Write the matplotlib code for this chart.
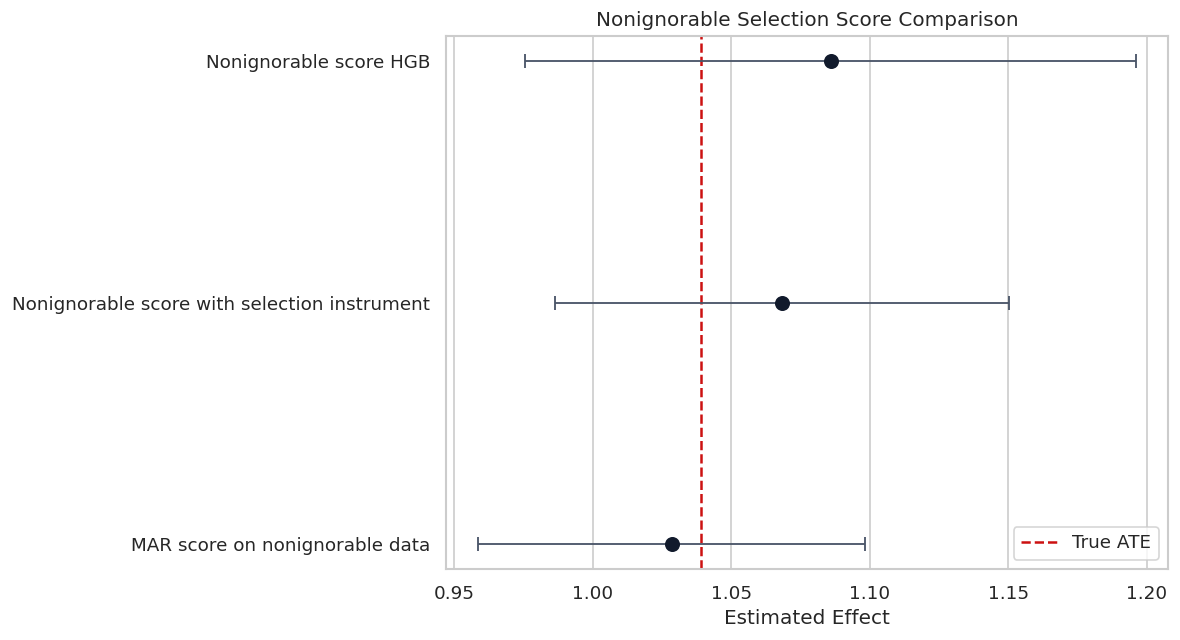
import matplotlib
matplotlib.use("Agg")
import matplotlib.pyplot as plt
import seaborn as sns
import numpy as np

labels = ["Nonignorable score HGB",
          "Nonignorable score with selection instrument",
          "MAR score on nonignorable data"]
estimates = [1.0860, 1.0683, 1.0286]
ci_lower = [0.9756, 0.9865, 0.9586]
ci_upper = [1.1961, 1.1501, 1.0982]
true_ate = 1.0391

sns.set_theme(style="whitegrid")
plt.rcParams['font.family'] = ['DejaVu Sans']

fig = plt.figure(figsize=(1180/120, 640/120), dpi=120)
ax = fig.add_axes([446/1180, 1 - 569/640, (1168-446)/1180, (569-36)/640])

y = np.arange(len(labels))
est = np.array(estimates)
err = np.vstack([est - np.array(ci_lower), np.array(ci_upper) - est])
ax.errorbar(est, y, xerr=err, fmt='o', color='#111a2c', ecolor='#4a5568',
            elinewidth=1.1, capsize=4, capthick=1.1, markersize=8, zorder=3)
ax.axvline(true_ate, color='#cc1111', linestyle='--', linewidth=1.5, label='True ATE', zorder=2)

ax.set_yticks(y)
ax.set_yticklabels(labels)
ax.set_ylim(2.104, -0.104)
ax.set_xlim(0.9471, 1.2076)
ax.set_xticks([0.95, 1.00, 1.05, 1.10, 1.15, 1.20])
ax.set_xticklabels(["0.95", "1.00", "1.05", "1.10", "1.15", "1.20"])
ax.grid(axis='y', visible=False)
ax.grid(axis='x', visible=True)
ax.set_xlabel("Estimated Effect", fontsize=12)
ax.set_title("Nonignorable Selection Score Comparison", fontsize=12)
ax.tick_params(axis='both', labelsize=11)
ax.legend(loc='lower right', fontsize=11)

fig.savefig("out.png", dpi=120)
